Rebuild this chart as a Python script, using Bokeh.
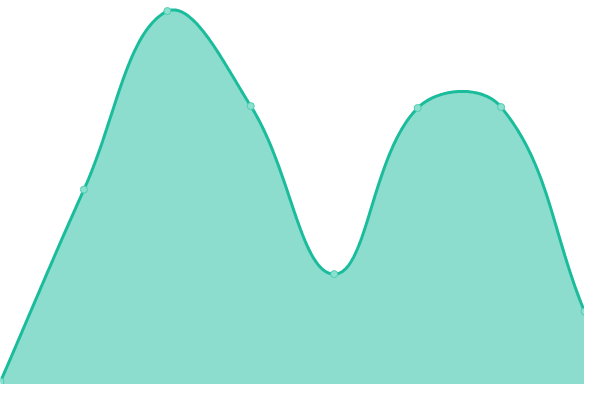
import numpy as np
from bokeh.plotting import figure
from bokeh.models import Range1d
from bokeh.embed import file_html
from bokeh.resources import INLINE

# data
x_idx = [0, 1, 2, 3, 4, 5, 6, 7]
values = [3, 203, 389, 290, 115, 288, 289, 76]

W, H = 584, 384
X_MAX = 7
Y_MAX = 400
TENSION = 0.4

# Chart.js-like spline smoothing computed in screen proportions
px = np.array(x_idx, dtype=float) * W / X_MAX
py = np.array(values, dtype=float) * H / Y_MAX
n = len(px)
cp_prev = []
cp_next = []
for i in range(n):
    pv = (px[max(i - 1, 0)], py[max(i - 1, 0)])
    cu = (px[i], py[i])
    nx = (px[min(i + 1, n - 1)], py[min(i + 1, n - 1)])
    d01 = np.hypot(cu[0] - pv[0], cu[1] - pv[1])
    d12 = np.hypot(nx[0] - cu[0], nx[1] - cu[1])
    tot = d01 + d12
    s01 = d01 / tot if tot else 0
    s12 = d12 / tot if tot else 0
    fa = TENSION * s01
    fb = TENSION * s12
    c1 = (cu[0] - fa * (nx[0] - pv[0]), cu[1] - fa * (nx[1] - pv[1]))
    c2 = (cu[0] + fb * (nx[0] - pv[0]), cu[1] + fb * (nx[1] - pv[1]))
    c1 = (min(max(c1[0], 0), W), min(max(c1[1], 0), H))
    c2 = (min(max(c2[0], 0), W), min(max(c2[1], 0), H))
    cp_prev.append(c1)
    cp_next.append(c2)

xs, ys = [], []
t = np.linspace(0, 1, 60)
for i in range(n - 1):
    p0 = np.array([px[i], py[i]])
    p1 = np.array(cp_next[i])
    p2 = np.array(cp_prev[i + 1])
    p3 = np.array([px[i + 1], py[i + 1]])
    tt = t if i == 0 else t[1:]
    for s in tt:
        b = ((1 - s) ** 3) * p0 + 3 * ((1 - s) ** 2) * s * p1 + 3 * (1 - s) * s * s * p2 + s ** 3 * p3
        xs.append(b[0] * X_MAX / W)
        ys.append(b[1] * Y_MAX / H)

p = figure(width=W, height=H, output_backend="svg", toolbar_location=None,
           x_range=Range1d(0, X_MAX), y_range=Range1d(0, Y_MAX),
           min_border=0, outline_line_color=None)
p.axis.visible = False
p.grid.visible = False
p.background_fill_color = "white"
p.border_fill_color = "white"

p.varea(x=xs, y1=0, y2=ys, fill_color="#1abc9c", fill_alpha=0.5)
p.line(xs, ys, line_color="#1abc9c", line_width=3)
p.scatter(x_idx, values, size=7, fill_color="#8ce0d0", line_color="#4fcdb2", line_width=1)

open("out.html", "w").write(file_html(p, INLINE))
